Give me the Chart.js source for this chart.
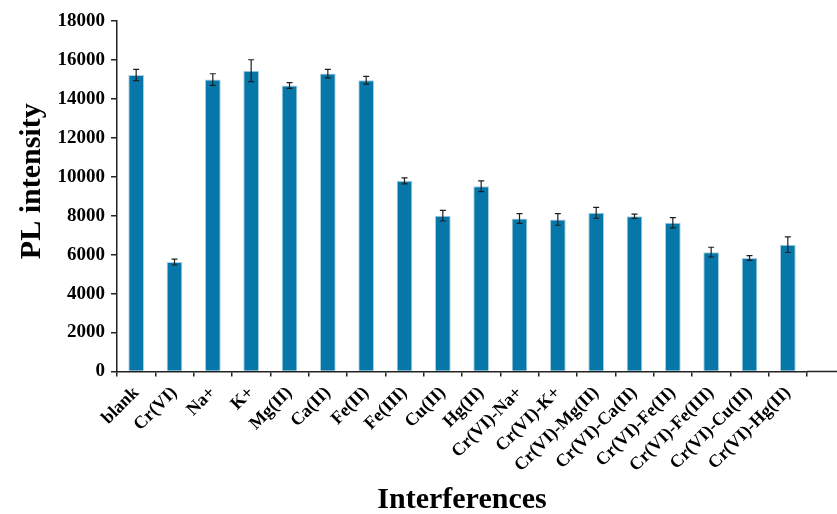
<!DOCTYPE html>
<html>
<head>
<meta charset="utf-8">
<script src="https://cdn.jsdelivr.net/npm/chart.js@4"></script>
<style>
  body { margin: 0; background: #fff; }
  #wrap { width: 837px; height: 514px; }
</style>
</head>
<body>
<div id="wrap"><canvas id="bar-chart"></canvas></div>
<script>
const labels = ['blank', 'Cr(VI)', 'Na+', 'K+', 'Mg(II)', 'Ca(II)', 'Fe(II)', 'Fe(III)', 'Cu(II)', 'Hg(II)',
  'Cr(VI)-Na+', 'Cr(VI)-K+', 'Cr(VI)-Mg(II)', 'Cr(VI)-Ca(II)', 'Cr(VI)-Fe(II)', 'Cr(VI)-Fe(III)',
  'Cr(VI)-Cu(II)', 'Cr(VI)-Hg(II)'];
const intensity = [15230, 5620, 14990, 15450, 14690, 15300, 14960, 9790, 8000, 9510,
  7860, 7810, 8150, 7970, 7640, 6130, 5830, 6510];
const errors = [290, 150, 300, 560, 150, 220, 200, 150, 270, 275,
  250, 300, 280, 110, 260, 250, 120, 400];
const yTicks = [0, 2000, 4000, 6000, 8000, 10000, 12000, 14000, 16000, 18000];

const SERIF = '"Liberation Serif", "Times New Roman", serif';
const CHART = document.getElementById('bar-chart');

// error bars, drawn from the values through the y scale
const errorBars = {
  id: 'errorBars',
  afterDatasetsDraw(chart) {
    const ctx = chart.ctx;
    const y = chart.scales.y;
    const meta = chart.getDatasetMeta(0);
    ctx.save();
    ctx.strokeStyle = '#1e1e1e';
    ctx.lineWidth = 1.2;
    meta.data.forEach((bar, i) => {
      const top = y.getPixelForValue(intensity[i] + errors[i]);
      const bot = y.getPixelForValue(intensity[i] - errors[i]);
      ctx.beginPath();
      ctx.moveTo(bar.x, top); ctx.lineTo(bar.x, bot);
      ctx.moveTo(bar.x - 3, top); ctx.lineTo(bar.x + 3, top);
      ctx.moveTo(bar.x - 3, bot); ctx.lineTo(bar.x + 3, bot);
      ctx.stroke();
    });
    ctx.restore();
  }
};

// the x axis line runs on past the last category
const axisTail = {
  id: 'axisTail',
  afterDraw(chart) {
    const {ctx, chartArea, width} = chart;
    ctx.save();
    ctx.strokeStyle = '#222';
    ctx.lineWidth = 1.5;
    ctx.beginPath();
    ctx.moveTo(chartArea.right, chartArea.bottom);
    ctx.lineTo(width, chartArea.bottom);
    ctx.stroke();
    ctx.restore();
  }
};

new Chart(CHART, {
  type: 'bar',
  data: {
    labels: labels,
    datasets: [{
      label: 'PL intensity',
      data: intensity,
      backgroundColor: '#0777aa',
      borderColor: '#a8d0e2',
      borderWidth: 1,
      categoryPercentage: 1,
      barPercentage: 0.41
    }]
  },
  options: {
    responsive: true,
    maintainAspectRatio: false,
    animation: false,
    layout: { padding: { top: 21, right: 30, left: 0, bottom: 0 } },
    plugins: {
      legend: { display: false },
      tooltip: { enabled: false }
    },
    scales: {
      x: {
        afterFit(scale) { scale.height = 142.5; },
        border: { color: '#222', width: 1.5 },
        grid: { drawOnChartArea: false, drawTicks: true, tickLength: 5, tickColor: '#222', lineWidth: 1.5 },
        ticks: {
          color: '#000',
          minRotation: 45,
          maxRotation: 45,
          padding: 6,
          autoSkip: false,
          font: { family: SERIF, size: 18, weight: 'bold' }
        },
        title: {
          display: true,
          text: 'Interferences',
          color: '#000',
          padding: { top: 0, bottom: -4 },
          font: { family: SERIF, size: 30, weight: 'bold' }
        }
      },
      y: {
        min: 0,
        max: 18000,
        afterFit(scale) { scale.width = 117; },
        afterBuildTicks(scale) { scale.ticks = yTicks.map(v => ({ value: v })); },
        border: { color: '#222', width: 1.5 },
        grid: { drawOnChartArea: false, drawTicks: true, tickLength: 6, tickColor: '#222', lineWidth: 1.5 },
        ticks: {
          color: '#000',
          padding: 6,
          callback: v => String(v),
          font: { family: SERIF, size: 19, weight: 'bold' }
        },
        title: {
          display: true,
          // leading spaces lift the label a little above the axis centre, as in the original
          text: '    PL intensity',
          color: '#000',
          padding: { top: 14, bottom: 0 },
          font: { family: SERIF, size: 30, weight: 'bold' }
        }
      }
    }
  },
  plugins: [errorBars, axisTail]
});
</script>
</body>
</html>
